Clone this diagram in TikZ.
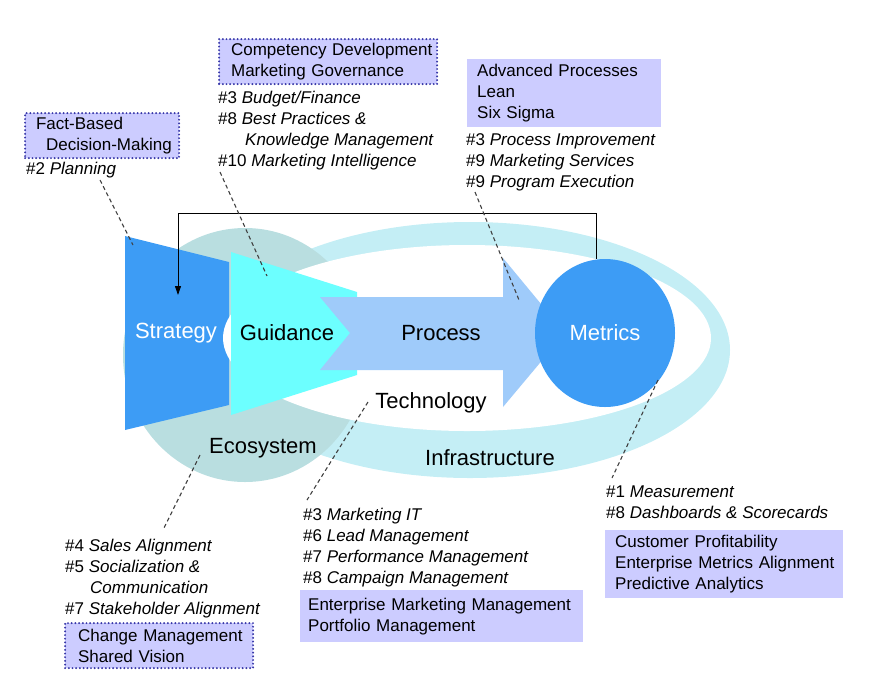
\documentclass[tikz,border=0pt]{standalone}
\usepackage{fontspec}
\setmainfont{Liberation Sans}
\usetikzlibrary{positioning,shapes.geometric,arrows.meta}

\definecolor{stratBlue}{HTML}{3D9CF5}
\definecolor{guideCyan}{HTML}{6CFFFF}
\definecolor{procBlue}{HTML}{9FCBFA}
\definecolor{ecoGray}{HTML}{B9DEE0}
\definecolor{infraCyan}{HTML}{C4EEF5}
\definecolor{boxLav}{HTML}{CCCCFF}
\definecolor{dotBlue}{HTML}{3838A8}

\newcommand{\kpi}[2]{\#{#1} \textit{#2}}

\begin{document}
\begin{tikzpicture}[x=1pt,y=-1pt,every text node part/.style={align=left}]
\tikzset{myFont/.style={font=\fontsize{17}{21}\selectfont}}
\tikzset{bigFont/.style={font=\fontsize{22}{24}\selectfont}}
\tikzset{myList/.style={myFont,inner sep=0pt,anchor=north west}}
\tikzset{myBox/.style={myFont,fill=boxLav,anchor=north west,inner ysep=0pt}}
\tikzset{myDots/.style={draw=dotBlue,line width=2.2pt,dash pattern=on 0pt off 3.7pt,line cap=round}}
\tikzset{myLeader/.style={draw=black!75,line width=1.1pt,dash pattern=on 4pt off 3pt}}

\useasboundingbox (0,0) rectangle (870,694);

% ecosystem and infrastructure
\fill[infraCyan] (470,350) ellipse [x radius=260,y radius=128];
\fill[ecoGray] (245,355) ellipse [x radius=122,y radius=127];
\fill[stratBlue] (125,236) -- (229,262) -- (229,405) -- (125,430) -- cycle;
\fill[white] (467,338) ellipse [x radius=244,y radius=93];

% guidance, process, metrics
\fill[guideCyan] (231,252) -- (357,292) -- (357,375) -- (231,415) -- cycle;
\fill[procBlue] (320,297) -- (503,297) -- (503,258) -- (565,333) -- (503,407) -- (503,370) -- (320,370) -- (350,333) -- cycle;
\node[ellipse,fill=stratBlue,minimum width=140pt,minimum height=148pt,inner sep=0pt,bigFont,text=white] (metrics) at (605,333) {Metrics};

\node[bigFont,white] (strategy) at (176,333) {Strategy};
\node[bigFont] (guidance) at (287,333) {Guidance};
\node[bigFont] (process) at (441,333) {Process};
\node[bigFont] (technology) at (431,403) {Technology};
\node[bigFont] (ecosystem) at (263,448) {Ecosystem};
\node[bigFont] (infrastructure) at (490,458) {Infrastructure};

% feedback loop
\coordinate (fbEnd) at (178,295);
\draw[-{Triangle[width=6pt,length=9pt]},line width=0.9pt] ([xshift=-9pt]metrics.north) -- ++(0,-45) -| (fbEnd);

% boxes
\node[myBox,myDots,inner xsep=11pt,text width=132pt,minimum height=45pt] (factBox) at (24,112)
  {\mbox{Fact-Based}\\\mbox{\hspace*{10pt}Decision-Making}};
\node[myBox,myDots,inner xsep=12pt,text width=194pt,minimum height=45pt] (compBox) at (218,38)
  {\mbox{Competency Development}\\\mbox{Marketing Governance}};
\node[myBox,inner xsep=10pt,text width=174pt,minimum height=68pt] (advBox) at (467,59)
  {\mbox{Advanced Processes}\\\mbox{Lean}\\\mbox{Six Sigma}};
\node[myBox,myDots,inner xsep=13pt,text width=162pt,minimum height=45pt] (changeBox) at (64,622)
  {\mbox{Change Management}\\\mbox{Shared Vision}};
\node[myBox,inner xsep=8pt,text width=267pt,minimum height=52pt] (emmBox) at (300,590)
  {\mbox{Enterprise Marketing Management}\\\mbox{Portfolio Management}};
\node[myBox,inner xsep=10pt,text width=218pt,minimum height=68pt] (custBox) at (605,530)
  {\mbox{Customer Profitability}\\\mbox{Enterprise Metrics Alignment}\\\mbox{Predictive Analytics}};

% lists
\node[myList] (planList) at (26,162) {\kpi{2}{Planning}};
\node[myList] (compList) at (218,91) {\kpi{3}{Budget/Finance}\\\kpi{8}{Best Practices \&}\\\hspace*{27pt}\textit{Knowledge Management}\\\kpi{10}{Marketing Intelligence}};
\node[myList] (procList) at (466,133) {\kpi{3}{Process Improvement}\\\kpi{9}{Marketing Services}\\\kpi{9}{Program Execution}};
\node[myList] (salesList) at (65,539) {\kpi{4}{Sales Alignment}\\\kpi{5}{Socialization \&}\\\hspace*{25pt}\textit{Communication}\\\kpi{7}{Stakeholder Alignment}};
\node[myList] (itList) at (303,508) {\kpi{3}{Marketing IT}\\\kpi{6}{Lead Management}\\\kpi{7}{Performance Management}\\\kpi{8}{Campaign Management}};
\node[myList] (measList) at (606,486) {\kpi{1}{Measurement}\\\kpi{8}{Dashboards \& Scorecards}};

% leaders
\coordinate (planA) at (100,180);   \coordinate (planB) at (133,245);
\coordinate (compA) at (220,172);   \coordinate (compB) at (267,276);
\coordinate (procA) at (475,192);   \coordinate (procB) at (519,300);
\coordinate (measA) at (658,380);   \coordinate (measB) at (612,478);
\coordinate (techA) at (368,402);   \coordinate (techB) at (307,500);
\coordinate (ecoA) at (200,455);    \coordinate (ecoB) at (163,530);
\path[myLeader] (planA) -- (planB);
\path[myLeader] (compA) -- (compB);
\path[myLeader] (procA) -- (procB);
\path[myLeader] (measA) -- (measB);
\path[myLeader] (techA) -- (techB);
\path[myLeader] (ecoA) -- (ecoB);

\end{tikzpicture}
\end{document}
